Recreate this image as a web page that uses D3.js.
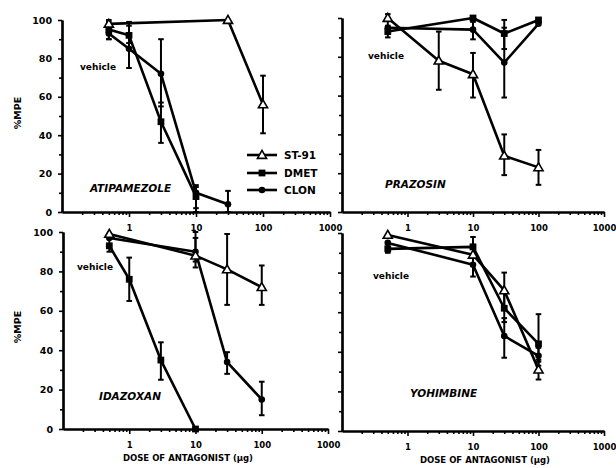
<!DOCTYPE html>
<html><head><meta charset="utf-8">
<script src="https://cdn.jsdelivr.net/npm/d3@7"></script>
<style>
body{margin:0;background:#fff}
svg{display:block}
text{font-family:"DejaVu Sans",sans-serif;font-weight:bold;fill:#000}
</style>
</head><body><svg id="c" width="616" height="468"></svg>
<script>
// ---------- data ----------
const seriesNames = ["ST-91", "DMET", "CLON"];
const panelNames = ["ATIPAMEZOLE", "PRAZOSIN", "IDAZOXAN", "YOHIMBINE"];
const xTickValues = [1, 10, 100, 1000];
const yTickValues = [0, 20, 40, 60, 80, 100];
const yMinorTicks = [10, 30, 50, 70, 90];
const xAxisTitle = "DOSE OF ANTAGONIST (\u00b5g)";
const yAxisTitle = "%MPE";
const vehicleLabel = "vehicle";
// rows: [dose µg (0.5 = vehicle position), %MPE, error low, error high]
const atipST91 = [[0.5, 98, 95, 100], [30, 100, null, null], [100, 56, 41, 71]];
const atipDMET = [[0.5, 95, 90, 99], [1, 92, 88, 97], [3, 47, 36, 57], [10, 8, 2, 13]];
const atipCLON = [[0.5, 93, 90, 97], [1, 85, 75, 99], [3, 72, 55, 90], [10, 10, 0, 14], [30, 4, 0, 11]];

const prazST91 = [[0.5, 100, 95, 102], [3, 78, 63, 93], [10, 71, 59, 82], [30, 29, 19, 40], [100, 23, 14, 32]];
const prazDMET = [[0.5, 93, 90, 96], [10, 100, null, null], [30, 92, 84, 99], [100, 99, null, null]];
const prazCLON = [[0.5, 95, null, null], [10, 94, 89, 98], [30, 77, 59, 95], [100, 97, null, null]];

const idazST91 = [[0.5, 99, null, null], [10, 88, 82, 97], [30, 81, 63, 99], [100, 72, 63, 83]];
const idazDMET = [[0.5, 93, 90, 98], [1, 76, 65, 87], [3, 35, 25, 44], [10, 0, null, null]];
const idazCLON = [[0.5, 97, null, null], [10, 90, 85, 100], [30, 34, 28, 39], [100, 15, 7, 24]];

const yohiST91 = [[0.5, 99, null, null], [10, 89, 84, 94], [30, 71, 62, 80], [100, 31, 26, 36]];
const yohiDMET = [[0.5, 92, 90, 95], [10, 93, 88, 98], [30, 62, 55, 70], [100, 44, 35, 59]];
const yohiCLON = [[0.5, 95, null, null], [10, 84, 78, 89], [30, 48, 37, 57], [100, 38, 33, 42]];

const panelData = [
  [atipST91, atipDMET, atipCLON],
  [prazST91, prazDMET, prazCLON],
  [idazST91, idazDMET, idazCLON],
  [yohiST91, yohiDMET, yohiCLON]
];

// ---------- layout ----------
const layout = [
  {x0: 62, x1: 330, yb: 212, yt: 20, yLab: true, xTitle: false, nx: 90, ny: 192, vx: 80, vy: 70, my: 113},
  {x0: 342, x1: 604, yb: 212, yt: 18, yLab: false, xTitle: false, nx: 385, ny: 188, vx: 368, vy: 59},
  {x0: 63, x1: 328, yb: 429, yt: 232, yLab: true, xTitle: true, tx: 188, nx: 99, ny: 400, vx: 77, vy: 270, my: 327},
  {x0: 342, x1: 604, yb: 431, yt: 233, yLab: false, xTitle: true, tx: 485, nx: 410, ny: 397, vx: 373, vy: 279}
];

const svg = d3.select("#c");
const markerKinds = ["triangle", "square", "circle"];

function drawMarker(g, kind, cx, cy) {
  if (kind === "triangle") {
    g.append("path").attr("d", d3.symbol(d3.symbolTriangle, 36)())
      .attr("transform", `translate(${cx},${cy + 0.7})`)
      .attr("fill", "#fff").attr("stroke", "#000").attr("stroke-width", 1.6);
  } else if (kind === "square") {
    g.append("path").attr("d", d3.symbol(d3.symbolSquare, 46)())
      .attr("transform", `translate(${cx},${cy})`).attr("fill", "#000");
  } else {
    g.append("circle").attr("cx", cx).attr("cy", cy).attr("r", 3.3).attr("fill", "#000");
  }
}

const xMinor = [];
[0.1, 1, 10, 100].forEach(d => { for (let k = 2; k < 10; k++) xMinor.push(d * k); });

layout.forEach((L, i) => {
  const x = d3.scaleLog().domain([0.1, 1000]).range([L.x0, L.x1]);
  const y = d3.scaleLinear().domain([0, 100]).range([L.yb, L.yt]);
  const g = svg.append("g");

  // x axis
  const gxm = g.append("g").attr("transform", `translate(0,${L.yb})`)
    .call(d3.axisBottom(x).tickValues(xMinor).tickSize(3).tickSizeOuter(0).tickFormat(""));
  const gx = g.append("g").attr("transform", `translate(0,${L.yb})`)
    .call(d3.axisBottom(x).tickValues(xTickValues).tickSize(5).tickSizeOuter(0).tickPadding(8).tickFormat(d3.format("d")));
  gx.selectAll("text").style("font-size", "8.5px").attr("font-family", null);

  // y axis
  const gym = g.append("g").attr("transform", `translate(${L.x0},0)`)
    .call(d3.axisLeft(y).tickValues(yMinorTicks).tickSize(3).tickSizeOuter(0).tickFormat(""));
  const gy = g.append("g").attr("transform", `translate(${L.x0},0)`)
    .call(d3.axisLeft(y).tickValues(yTickValues).tickSize(4).tickSizeOuter(0).tickPadding(6)
      .tickFormat(L.yLab ? d3.format("d") : () => ""));
  gy.selectAll("text").style("font-size", "9.5px").attr("font-family", null);

  [gxm, gx, gym, gy].forEach(a => {
    a.select(".domain").attr("stroke", "#000").attr("stroke-width", 2.2);
    a.selectAll(".tick line").attr("stroke", "#000").attr("stroke-width", 1.6);
  });

  if (L.yLab) {
    g.append("text").attr("transform", `translate(21,${L.my}) rotate(-90)`)
      .attr("text-anchor", "middle").style("font-size", "9.5px").text(yAxisTitle);
  }
  if (L.xTitle) {
    g.append("text").attr("x", L.tx).attr("y", L.yb + 32)
      .attr("text-anchor", "middle").style("font-size", "8.5px").text(xAxisTitle);
  }

  // panel name & vehicle label
  g.append("text").attr("x", L.nx).attr("y", L.ny).style("font-size", "10.5px")
    .style("font-style", "italic").text(panelNames[i]);
  g.append("text").attr("x", L.vx).attr("y", L.vy).style("font-size", "9px").text(vehicleLabel);

  const line = d3.line().x(d => x(d[0])).y(d => y(d[1]));
  const series = panelData[i];
  // lines
  series.forEach(s => {
    g.append("path").attr("d", line(s)).attr("fill", "none")
      .attr("stroke", "#000").attr("stroke-width", 2.6).attr("stroke-linejoin", "round");
  });
  // error bars
  series.forEach(s => {
    s.filter(d => d[2] !== null).forEach(d => {
      const cx = x(d[0]);
      g.append("line").attr("x1", cx).attr("x2", cx).attr("y1", y(d[2])).attr("y2", y(d[3]))
        .attr("stroke", "#000").attr("stroke-width", 2);
      [d[2], d[3]].forEach(v => {
        g.append("line").attr("x1", cx - 2.8).attr("x2", cx + 2.8).attr("y1", y(v)).attr("y2", y(v))
          .attr("stroke", "#000").attr("stroke-width", 2);
      });
    });
  });
  // markers (circles, squares, then open triangles on top)
  [2, 1, 0].forEach(si => {
    series[si].forEach(d => drawMarker(g, markerKinds[si], x(d[0]), y(d[1])));
  });
});

// legend (in first panel)
const lg = svg.append("g");
const legendRows = [155, 173, 190];
seriesNames.forEach((n, i) => {
  const yy = legendRows[i];
  lg.append("line").attr("x1", 247).attr("x2", 277).attr("y1", yy).attr("y2", yy)
    .attr("stroke", "#000").attr("stroke-width", 2.6);
  drawMarker(lg, markerKinds[i], 262, yy);
  lg.append("text").attr("x", 284).attr("y", yy + 4).style("font-size", "10.5px").text(n);
});
</script>
</body></html>
